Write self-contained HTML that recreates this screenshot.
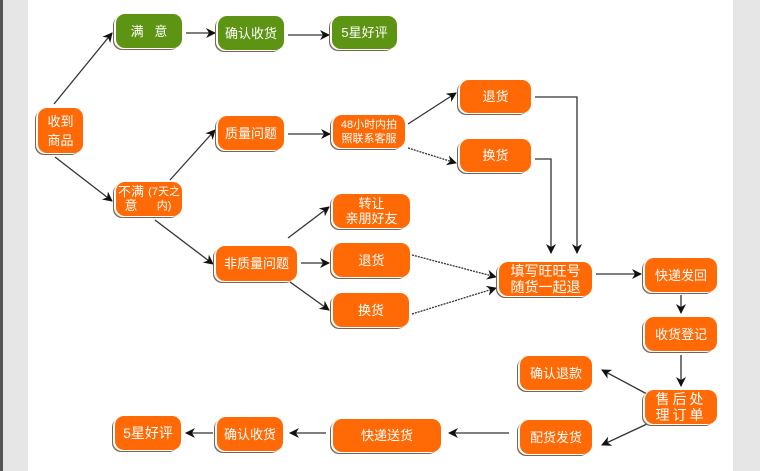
<!DOCTYPE html>
<html><head><meta charset="utf-8"><style>
body{margin:0;width:760px;height:471px;position:relative;background:#fff;overflow:hidden;font-family:"Liberation Sans","Noto Sans CJK SC",sans-serif}
.b{position:absolute;color:#fff;font-size:13px;line-height:15px;display:flex;align-items:center;justify-content:center;text-align:center;border-radius:9px;background:#ff6a06;box-shadow:-2px 1px 0 #fff,-3px 2px 0 #7a6450;box-sizing:border-box}
.g{background:#5d9413}
</style></head><body>
<div style="position:absolute;left:0;top:0;width:3px;height:471px;background:#555"></div>
<div style="position:absolute;left:3px;top:0;width:25px;height:471px;background:#e6e6e6"></div>
<div style="position:absolute;left:733px;top:0;width:27px;height:471px;background:#e6e6e6"></div>
<svg width="760" height="471" style="position:absolute;left:0;top:0">
<defs><marker id="a" markerWidth="10" markerHeight="10" refX="9" refY="5" orient="auto" markerUnits="userSpaceOnUse"><path d="M0,0 L10,5 L0,10 L3,5z" fill="#111"/></marker></defs>
<g stroke="#333" stroke-width="1.3" fill="none" marker-end="url(#a)">
<line x1="54" y1="104" x2="112" y2="33"/>
<line x1="186" y1="33" x2="215" y2="33"/>
<line x1="288" y1="35" x2="329" y2="35"/>
<line x1="55" y1="157" x2="112" y2="201"/>
<line x1="170" y1="180" x2="215" y2="130"/>
<line x1="288" y1="134" x2="330" y2="134"/>
<line x1="408" y1="124" x2="456" y2="93"/>
<line x1="408" y1="148" x2="456" y2="163" stroke-dasharray="2,1"/>
<line x1="155" y1="220" x2="213" y2="264"/>
<line x1="288" y1="238" x2="329" y2="207"/>
<line x1="301" y1="263" x2="329" y2="263"/>
<line x1="290" y1="282" x2="329" y2="310"/>
<line x1="412" y1="255" x2="496" y2="277" stroke-dasharray="2,1"/>
<line x1="412" y1="314" x2="496" y2="288" stroke-dasharray="2,1"/>
<polyline points="535,97 577,97 577,253"/>
<polyline points="535,159 551,159 551,253"/>
<line x1="596" y1="274" x2="641" y2="274"/>
<line x1="681" y1="295" x2="681" y2="313"/>
<line x1="681" y1="355" x2="681" y2="386"/>
<line x1="647" y1="394" x2="602" y2="370"/>
<line x1="647" y1="424" x2="602" y2="445"/>
<line x1="509" y1="433" x2="449" y2="433"/>
<line x1="326" y1="433" x2="290" y2="433"/>
<line x1="213" y1="433" x2="186" y2="433"/>
</g></svg>
<div class="b g" style="left:116px;top:14px;width:66px;height:34px">满&nbsp;&nbsp;&nbsp;意</div>
<div class="b g" style="left:218px;top:16px;width:66px;height:34px">确认收货</div>
<div class="b g" style="left:332px;top:16px;width:65px;height:33px">5星好评</div>
<div class="b" style="left:38px;top:108px;width:45px;height:45px;line-height:19px">收到<br>商品</div>
<div class="b" style="left:218px;top:116px;width:66px;height:34px">质量问题</div>
<div class="b" style="left:333px;top:115px;width:72px;height:33px;font-size:11px;line-height:14px">48小时内拍<br>照联系客服</div>
<div class="b" style="left:460px;top:80px;width:71px;height:33px">退货</div>
<div class="b" style="left:460px;top:139px;width:71px;height:33px">换货</div>
<div class="b" style="left:116px;top:182px;width:66px;height:34px;line-height:14px">不满意<br><span style="font-size:11px">(7天之内)</span></div>
<div class="b" style="left:333px;top:194px;width:77px;height:34px">转让<br>亲朋好友</div>
<div class="b" style="left:216px;top:246px;width:81px;height:35px">非质量问题</div>
<div class="b" style="left:333px;top:243px;width:77px;height:34px">退货</div>
<div class="b" style="left:333px;top:293px;width:76px;height:34px">换货</div>
<div class="b" style="left:499px;top:262px;width:93px;height:34px;font-size:14px;line-height:16px">填写旺旺号<br>随货一起退</div>
<div class="b" style="left:645px;top:258px;width:72px;height:34px">快递发回</div>
<div class="b" style="left:645px;top:317px;width:72px;height:34px">收货登记</div>
<div class="b" style="left:645px;top:390px;width:72px;height:34px;font-size:14px;line-height:16px;letter-spacing:3px">售后处<br>理订单</div>
<div class="b" style="left:520px;top:356px;width:72px;height:34px">确认退款</div>
<div class="b" style="left:520px;top:420px;width:72px;height:34px">配货发货</div>
<div class="b" style="left:333px;top:419px;width:108px;height:33px">快递送货</div>
<div class="b" style="left:217px;top:417px;width:66px;height:34px">确认收货</div>
<div class="b" style="left:115px;top:416px;width:66px;height:34px;font-size:14px">5星好评</div>
</body></html>
